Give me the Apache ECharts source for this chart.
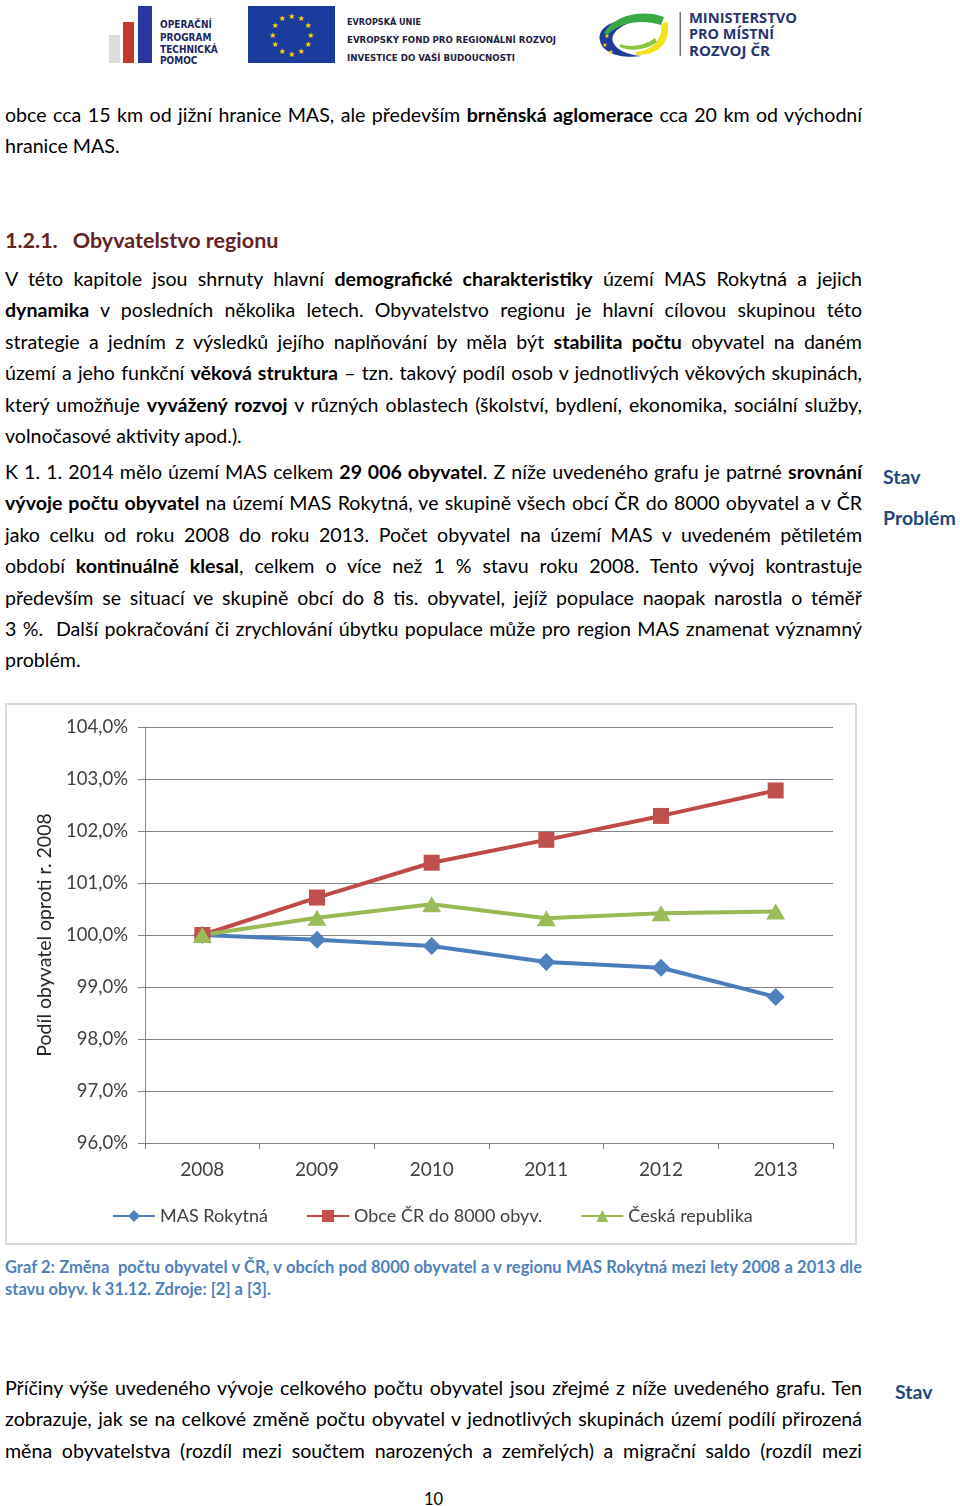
<!DOCTYPE html>
<html lang="cs">
<head>
<meta charset="utf-8">
<script src="https://cdn.jsdelivr.net/npm/echarts@6/dist/echarts.min.js"></script>
<style>
  html,body{margin:0;padding:0;background:#fff;}
  body{width:960px;height:1506px;position:relative;overflow:hidden;font-family:Lato,"Open Sans","Noto Sans",sans-serif;color:#000;}
  .para{position:absolute;left:5px;width:857px;font-size:19.6px;line-height:31.4px;}
  .jl{text-align:justify;text-align-last:justify;white-space:normal;}
  .ll{text-align:left;}
  .head{position:absolute;left:5px;top:225px;font-size:21.5px;line-height:30px;font-weight:bold;color:#632423;}
  .side{position:absolute;font-size:19.5px;font-weight:bold;color:#1f497d;line-height:26px;}
  .cap{position:absolute;left:5px;top:1256px;width:857px;font-size:16.5px;line-height:22px;font-weight:bold;color:#4f81bd;}
  #box{position:absolute;left:5px;top:703px;width:852px;height:542px;box-sizing:border-box;border:2px solid #d9d9d9;}
  #chart{position:absolute;left:5px;top:703px;width:852px;height:542px;}
  .pn{position:absolute;left:424px;top:1488px;font-size:16.5px;line-height:22px;}
</style>
</head>
<body>
<svg width="960" height="75" style="position:absolute;left:0;top:0" xmlns="http://www.w3.org/2000/svg">
  <rect x="109" y="35" width="11" height="28" fill="#dcdcdc"/>
  <rect x="123" y="22" width="11" height="41" fill="#c0392b"/>
  <rect x="138" y="6" width="14" height="57" fill="#2a35a0"/>
  <g font-family="'DejaVu Sans Condensed','DejaVu Sans',sans-serif" font-weight="bold" font-size="10" fill="#1c2660">
    <text x="160" y="28">OPERAČNÍ</text>
    <text x="160" y="41">PROGRAM</text>
    <text x="160" y="53">TECHNICKÁ</text>
    <text x="160" y="64">POMOC</text>
  </g>
  <rect x="248" y="6" width="87" height="57" fill="#1a3a9c"/>
  <g id="stars" fill="#ffd200" font-size="8" text-anchor="middle" font-family="'DejaVu Sans',sans-serif"></g>
  <g font-family="'DejaVu Sans Condensed','DejaVu Sans',sans-serif" font-weight="bold" font-size="9" fill="#1c2040">
    <text x="347" y="25">EVROPSKÁ UNIE</text>
    <text x="347" y="43" textLength="209" lengthAdjust="spacingAndGlyphs">EVROPSKÝ FOND PRO REGIONÁLNÍ ROZVOJ</text>
    <text x="347" y="61" textLength="168" lengthAdjust="spacingAndGlyphs">INVESTICE DO VAŠÍ BUDOUCNOSTI</text>
  </g>
  <path d="M600,41 C596,26 618,17 642,19 C622,24 610,32 613,42 C616,50 628,55 642,56 C620,59 603,53 600,41 Z" fill="#1f3d99"/>
  <path d="M604,33 C614,15 642,9 664,17 L661,25 C642,19 620,22 607,35 Z" fill="#3aa845"/>
  <path d="M636,52 C654,50 663,38 661,25 L667,21 C672,40 660,56 636,55 Z" fill="#f2e21c"/>
  <path d="M620,44 C630,48 645,46 655,38 L657,42 C647,50 630,52 620,47 Z" fill="#8cc63f"/>
  <g fill="#ffd200" font-size="6" font-family="'DejaVu Sans',sans-serif"><text x="604" y="38">★</text><text x="602" y="47">★</text><text x="608" y="54">★</text></g>
  <rect x="679.5" y="12" width="1.5" height="44" fill="#777"/>
  <g font-family="'Open Sans','DejaVu Sans',sans-serif" font-weight="bold" font-size="14" fill="#27356e">
    <text x="689" y="23" textLength="108" lengthAdjust="spacingAndGlyphs">MINISTERSTVO</text>
    <text x="689" y="39" textLength="85" lengthAdjust="spacingAndGlyphs">PRO MÍSTNÍ</text>
    <text x="689" y="56" textLength="81" lengthAdjust="spacingAndGlyphs">ROZVOJ ČR</text>
  </g>
</svg>

<div class="para" style="top:99px">
  <div class="jl">obce cca 15 km od jižní hranice MAS, ale především <b>brněnská aglomerace</b> cca 20 km od východní</div>
  <div class="ll">hranice MAS.</div>
</div>

<div class="head">1.2.1.<span style="display:inline-block;width:15px"></span>Obyvatelstvo regionu</div>

<div class="para" style="top:263px">
  <div class="jl">V této kapitole jsou shrnuty hlavní <b>demografické charakteristiky</b> území MAS Rokytná a jejich</div>
  <div class="jl"><b>dynamika</b> v posledních několika letech. Obyvatelstvo regionu je hlavní cílovou skupinou této</div>
  <div class="jl">strategie a jedním z výsledků jejího naplňování by měla být <b>stabilita počtu</b> obyvatel na daném</div>
  <div class="jl">území a jeho funkční <b>věková struktura</b> – tzn. takový podíl osob v jednotlivých věkových skupinách,</div>
  <div class="jl">který umožňuje <b>vyvážený rozvoj</b> v různých oblastech (školství, bydlení, ekonomika, sociální služby,</div>
  <div class="ll">volnočasové aktivity apod.).</div>
</div>

<div class="para" style="top:456px">
  <div class="jl">K 1. 1. 2014 mělo území MAS celkem <b>29 006 obyvatel</b>. Z níže uvedeného grafu je patrné <b>srovnání</b></div>
  <div class="jl"><b>vývoje počtu obyvatel</b> na území MAS Rokytná, ve skupině všech obcí ČR do 8000 obyvatel a v ČR</div>
  <div class="jl">jako celku od roku 2008 do roku 2013. Počet obyvatel na území MAS v uvedeném pětiletém</div>
  <div class="jl">období <b>kontinuálně klesal</b>, celkem o více než 1 % stavu roku 2008. Tento vývoj kontrastuje</div>
  <div class="jl">především se situací ve skupině obcí do 8 tis. obyvatel, jejíž populace naopak narostla o téměř</div>
  <div class="jl">3 %.&nbsp; Další pokračování či zrychlování úbytku populace může pro region MAS znamenat významný</div>
  <div class="ll">problém.</div>
</div>

<div class="side" style="left:883px;top:464px">Stav</div>
<div class="side" style="left:883px;top:505px">Problém</div>

<div id="box"></div>
<div id="chart"></div>

<div class="cap">
  <div class="jl">Graf 2: Změna&nbsp; počtu obyvatel v ČR, v obcích pod 8000 obyvatel a v regionu MAS Rokytná mezi lety 2008 a 2013 dle</div>
  <div class="ll">stavu obyv. k 31.12. Zdroje: [2] a [3].</div>
</div>

<div class="para" style="top:1372px">
  <div class="jl">Příčiny výše uvedeného vývoje celkového počtu obyvatel jsou zřejmé z níže uvedeného grafu. Ten</div>
  <div class="jl">zobrazuje, jak se na celkové změně počtu obyvatel v jednotlivých skupinách území podílí přirozená</div>
  <div class="jl">měna obyvatelstva (rozdíl mezi součtem narozených a zemřelých) a migrační saldo (rozdíl mezi</div>
</div>
<div class="side" style="left:895px;top:1379px">Stav</div>

<div class="pn">10</div>

<script>
// ---- data ----
const years = ['2008', '2009', '2010', '2011', '2012', '2013'];
const seriesNames = ['MAS Rokytná', 'Obce ČR do 8000 obyv.', 'Česká republika'];
const masRokytna = [100.00, 99.91, 99.79, 99.48, 99.37, 98.81];
const obceDo8000 = [100.00, 100.72, 101.39, 101.83, 102.29, 102.78];
const ceskaRepublika = [100.00, 100.33, 100.59, 100.32, 100.42, 100.45];
const yMin = 96, yMax = 104, yStep = 1;
const yAxisTitle = 'Podíl obyvatel oproti r. 2008';

// ---- EU stars ----
(function(){
  const g = document.getElementById('stars');
  const cx = 291.5, cy = 34.5, r = 19;
  for (let i = 0; i < 12; i++) {
    const a = i * Math.PI / 6;
    const t = document.createElementNS('http://www.w3.org/2000/svg', 'text');
    t.setAttribute('x', (cx + r * Math.sin(a)).toFixed(1));
    t.setAttribute('y', (cy - r * Math.cos(a) + 3).toFixed(1));
    t.textContent = '★';
    g.appendChild(t);
  }
})();

// ---- fit justified lines ----
document.querySelectorAll('.jl, .ll').forEach(function(el){
  const W = el.parentElement.clientWidth;
  const s = el.style;
  s.whiteSpace = 'nowrap'; s.display = 'inline-block';
  const w = el.getBoundingClientRect().width;
  s.whiteSpace = ''; s.display = '';
  if (w > W - 1) {
    const fs = parseFloat(getComputedStyle(el).fontSize);
    s.fontSize = (fs * (W - 2) / w).toFixed(2) + 'px';
  }
});

// ---- chart ----
const font = 'Lato, "Open Sans", sans-serif';
const axisGray = '#868686';
const chart = echarts.init(document.getElementById('chart'), null, {renderer: 'canvas'});
chart.setOption({
  animation: false,
  textStyle: {fontFamily: font},
  grid: {left: 140, right: 24, top: 24, bottom: 102},
  legend: {
    data: seriesNames, left: 102, top: 499,
    itemWidth: 42, itemHeight: 15, itemGap: 38,
    textStyle: {fontSize: 18, color: '#404040', fontFamily: font}
  },
  xAxis: {
    type: 'category', data: years, boundaryGap: true,
    axisLine: {lineStyle: {color: axisGray, width: 1}},
    axisTick: {show: true, length: 6, lineStyle: {color: axisGray}},
    axisLabel: {fontSize: 19, color: '#404040', margin: 17, fontFamily: font}
  },
  yAxis: {
    type: 'value', min: yMin, max: yMax, interval: yStep,
    name: yAxisTitle, nameLocation: 'middle', nameGap: 88,
    nameTextStyle: {fontSize: 19.5, color: '#262626', fontFamily: font},
    axisLine: {show: true, lineStyle: {color: axisGray, width: 1}},
    axisTick: {show: true, length: 7, lineStyle: {color: axisGray}},
    splitLine: {show: true, lineStyle: {color: axisGray, width: 1}},
    axisLabel: {
      fontSize: 18.5, color: '#404040', margin: 17, fontFamily: font,
      formatter: function(v){ return v.toFixed(1).replace('.', ',') + '%'; }
    }
  },
  series: [
    {
      name: seriesNames[0], type: 'line', data: masRokytna,
      symbol: 'diamond', symbolSize: 18,
      lineStyle: {color: '#4a7ebb', width: 4},
      itemStyle: {color: '#4f81bd'}
    },
    {
      name: seriesNames[1], type: 'line', data: obceDo8000,
      symbol: 'rect', symbolSize: 16,
      lineStyle: {color: '#be4b48', width: 4},
      itemStyle: {color: '#c0504d'}
    },
    {
      name: seriesNames[2], type: 'line', data: ceskaRepublika,
      symbol: 'triangle', symbolSize: [19, 16],
      lineStyle: {color: '#98b954', width: 4},
      itemStyle: {color: '#9bbb59'}
    }
  ]
});
</script>
</body>
</html>
